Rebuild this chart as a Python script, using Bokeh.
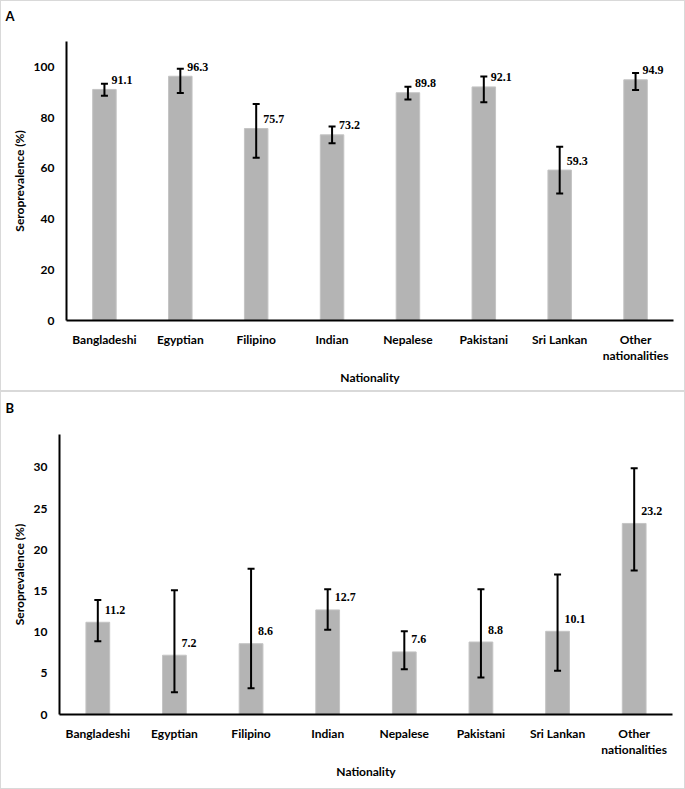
from bokeh.plotting import figure
from bokeh.models import (ColumnDataSource, Range1d, FactorRange, FixedTicker,
                          Whisker, TeeHead, LabelSet)
from bokeh.layouts import column
from bokeh.embed import file_html
from bokeh.resources import INLINE

# ---------------- data ----------------
nationalities = ["Bangladeshi", "Egyptian", "Filipino", "Indian", "Nepalese",
                 "Pakistani", "Sri Lankan", "Other\nnationalities"]

a_values = [91.1, 96.3, 75.7, 73.2, 89.8, 92.1, 59.3, 94.9]
a_lower = [88.6, 89.7, 64.2, 69.9, 87.1, 86.0, 50.1, 90.9]
a_upper = [93.3, 99.3, 85.4, 76.5, 92.2, 96.2, 68.5, 97.6]
a_ticks = [0, 20, 40, 60, 80, 100]
a_max = 110

b_values = [11.2, 7.2, 8.6, 12.7, 7.6, 8.8, 10.1, 23.2]
b_lower = [8.9, 2.7, 3.2, 10.3, 5.5, 4.5, 5.3, 17.5]
b_upper = [13.9, 15.1, 17.7, 15.2, 10.1, 15.2, 17.0, 29.9]
b_ticks = [0, 5, 10, 15, 20, 25, 30]
b_max = 34

x_title = "Nationality"
y_title = "Seroprevalence (%)"

FONT = "Lato"
BAR = "#b4b4b4"


def make_panel(letter, values, lower, upper, ymax, ticks,
               height, left, right, top, bottom, label_dy, letter_pad):
    src = ColumnDataSource(dict(
        x=nationalities, top=values, lower=lower, upper=upper,
        label=[f"{v:.1f}" for v in values]))
    # the empty second line lifts the panel letter to the top of the canvas
    p = figure(x_range=FactorRange(*nationalities), y_range=Range1d(0, ymax),
               width=683, height=height, output_backend="svg",
               toolbar_location=None, min_border_left=left,
               min_border_right=right, min_border_top=top,
               min_border_bottom=bottom, title=letter + "\n")
    p.vbar(x="x", top="top", width=0.31, source=src, fill_color=BAR,
           line_color="#c4c4c4", line_width=1)
    w = Whisker(base="x", upper="upper", lower="lower", source=src,
                line_color="black", line_width=2, level="annotation",
                upper_head=TeeHead(size=7, line_width=2, line_color="black"),
                lower_head=TeeHead(size=7, line_width=2, line_color="black"))
    p.add_layout(w)
    labels = LabelSet(x="x", y="top", text="label", source=src,
                      x_offset=7, y_offset=label_dy, text_align="left",
                      text_baseline="middle", text_font=FONT,
                      text_font_style="bold", text_font_size="12px",
                      text_color="black")
    p.add_layout(labels)

    p.title.text_font = FONT
    p.title.text_font_size = "13px"
    p.title.text_font_style = "bold"
    p.title.text_color = "black"
    p.title.align = "left"
    p.title.vertical_align = "bottom"
    p.title.offset = 4 - left
    p.title.standoff = letter_pad

    p.xgrid.grid_line_color = None
    p.ygrid.grid_line_color = None
    p.outline_line_color = None

    for ax in (p.xaxis[0], p.yaxis[0]):
        ax.axis_line_width = 2
        ax.axis_line_color = "black"
        ax.major_tick_line_color = None
        ax.minor_tick_line_color = None
        ax.major_tick_out = 0
        ax.major_tick_in = 0
        ax.minor_tick_out = 0
        ax.minor_tick_in = 0
        ax.major_label_text_font = FONT
        ax.major_label_text_font_style = "bold"
        ax.major_label_text_font_size = "12px"
        ax.major_label_text_color = "black"
        ax.axis_label_text_font = FONT
        ax.axis_label_text_font_style = "bold"
        ax.axis_label_text_font_size = "12px"
        ax.axis_label_text_color = "black"
    p.yaxis.ticker = FixedTicker(ticks=ticks)
    p.yaxis.major_label_standoff = 12
    p.yaxis.axis_label = y_title
    p.yaxis.axis_label_standoff = 4
    p.xaxis.major_label_standoff = 11
    p.xaxis.major_label_text_line_height = 1.11
    p.xaxis.axis_label = x_title
    p.xaxis.axis_label_standoff = 4
    # light grey panel frame (drawn by the wrapper's CSS border)
    return column(p, styles={"border": "1px solid #d9d9d9"})


pa = make_panel("A", a_values, a_lower, a_upper, a_max, a_ticks,
                height=389, left=65, right=11, top=40, bottom=70,
                label_dy=9.5, letter_pad=4)
pb = make_panel("B", b_values, b_lower, b_upper, b_max, b_ticks,
                height=396, left=58, right=12, top=42, bottom=74,
                label_dy=12.5, letter_pad=6)

layout = column(pa, pb, spacing=0)
open("out.html", "w").write(file_html(layout, INLINE))
